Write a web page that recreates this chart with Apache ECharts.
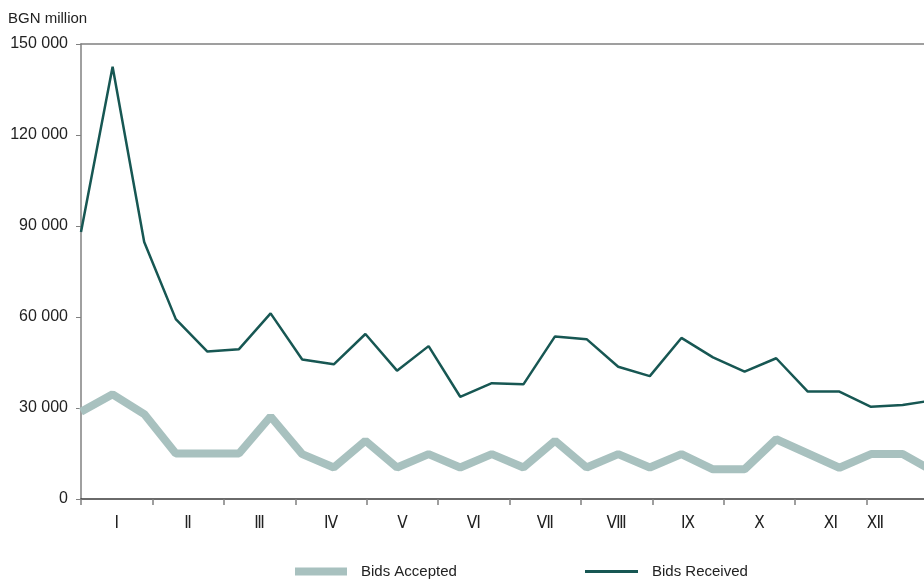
<!DOCTYPE html>
<html>
<head>
<meta charset="utf-8">
<script src="https://cdn.jsdelivr.net/npm/echarts@6/dist/echarts.min.js"></script>
<style>
  html, body { margin: 0; padding: 0; background: #fff; overflow: hidden; width: 924px; height: 581px; }
  /* the drawing is a little wider than the page, so the plot runs off the right edge */
  #chart { width: 938px; height: 581px; }
</style>
</head>
<body>
<div id="chart"></div>
<script>
// Month labels along the bottom axis
const months = ['Ⅰ', 'Ⅱ', 'Ⅲ', 'Ⅳ', 'Ⅴ', 'Ⅵ', 'Ⅶ', 'Ⅷ', 'Ⅸ', 'Ⅹ', 'Ⅺ', 'Ⅻ'];

// Auction observations, BGN million (28 auctions across the year)
const bidsReceived = [88000, 142500, 84700, 59300, 48600, 49400, 61200, 46000, 44400, 54400,
  42300, 50400, 33700, 38200, 37800, 53600, 52700, 43600, 40500, 53100,
  46700, 42000, 46400, 35400, 35400, 30400, 31000, 32600];
const bidsAccepted = [28800, 34500, 28000, 15000, 15000, 15000, 27200, 14800, 10400, 19200,
  10400, 14800, 10400, 14800, 10400, 19200, 10400, 14800, 10400, 14800,
  9800, 9800, 19700, 15000, 10300, 14800, 14800, 9000];

// Y-axis range and step
const yMin = 0, yMax = 150000, yStep = 30000;

// Auction positions measured in auction steps; the year spans slightly more than 27 steps
const yearSpan = 27.12;

const textFont = "'Liberation Sans', Arial, sans-serif";
const numeralFont = "'DejaVu Sans Condensed', 'DejaVu Sans', sans-serif";

const toPairs = arr => arr.map((v, i) => [i, v]);

// the last month's label sits nearer its left tick, inside the visible part of the page
const monthItems = months.map((m, i) =>
  i === months.length - 1 ? { value: m, textStyle: { padding: [0, 54, 0, 0] } } : m);

const chart = echarts.init(document.getElementById('chart'), null, { renderer: 'canvas' });
chart.setOption({
  animation: false,
  backgroundColor: '#ffffff',
  grid: { left: 81, right: 0, top: 44, bottom: 82, containLabel: false, outerBoundsMode: 'none' },
  graphic: [{
    type: 'text', left: 8, top: 11,
    style: { text: 'BGN million', font: "15px " + textFont, fill: '#222' }
  }],
  legend: [{
    left: 290, top: 559, icon: 'rect', itemWidth: 52, itemHeight: 8,
    data: ['Bids Accepted'],
    textStyle: { fontFamily: textFont, fontSize: 15, color: '#222', padding: [0, 0, 0, 9] }
  }, {
    left: 580, top: 559, icon: 'rect', itemWidth: 53, itemHeight: 3,
    data: ['Bids Received'],
    textStyle: { fontFamily: textFont, fontSize: 15, color: '#222', padding: [0, 0, 0, 9] }
  }],
  xAxis: [{
    type: 'category', data: monthItems, position: 'bottom', boundaryGap: true,
    axisLine: { show: true, lineStyle: { color: '#3a3a3a', width: 1.5 } },
    axisTick: { show: true, alignWithLabel: false, length: 6, lineStyle: { color: '#808080', width: 1.5 } },
    axisLabel: { margin: 16, fontFamily: numeralFont, fontSize: 17, color: '#222', interval: 0 },
    splitLine: { show: false }
  }, {
    type: 'value', min: 0, max: yearSpan, show: false
  }, {
    type: 'category', data: months, position: 'top',
    axisLine: { show: true, lineStyle: { color: '#808080', width: 1.5 } },
    axisTick: { show: false }, axisLabel: { show: false }, splitLine: { show: false }
  }],
  yAxis: {
    type: 'value', min: yMin, max: yMax, interval: yStep,
    axisLine: { show: true, lineStyle: { color: '#808080', width: 1.5 } },
    axisTick: { show: true, length: 5, lineStyle: { color: '#808080', width: 1 } },
    splitLine: { show: false },
    axisLabel: {
      margin: 13, fontFamily: textFont, fontSize: 16, color: '#222',
      formatter: v => String(v).replace(/\B(?=(\d{3})+(?!\d))/g, ' ')
    }
  },
  series: [{
    name: 'Bids Accepted', type: 'line', xAxisIndex: 1,
    data: toPairs(bidsAccepted), showSymbol: false, symbol: 'none',
    color: '#a8c1bf',
    lineStyle: { color: '#a8c1bf', width: 8, join: 'bevel', cap: 'butt' },
    itemStyle: { color: '#a8c1bf' }, z: 2
  }, {
    name: 'Bids Received', type: 'line', xAxisIndex: 1,
    data: toPairs(bidsReceived), showSymbol: false, symbol: 'none',
    color: '#175753',
    lineStyle: { color: '#175753', width: 2.5 },
    itemStyle: { color: '#175753' }, z: 3
  }]
});
</script>
</body>
</html>
